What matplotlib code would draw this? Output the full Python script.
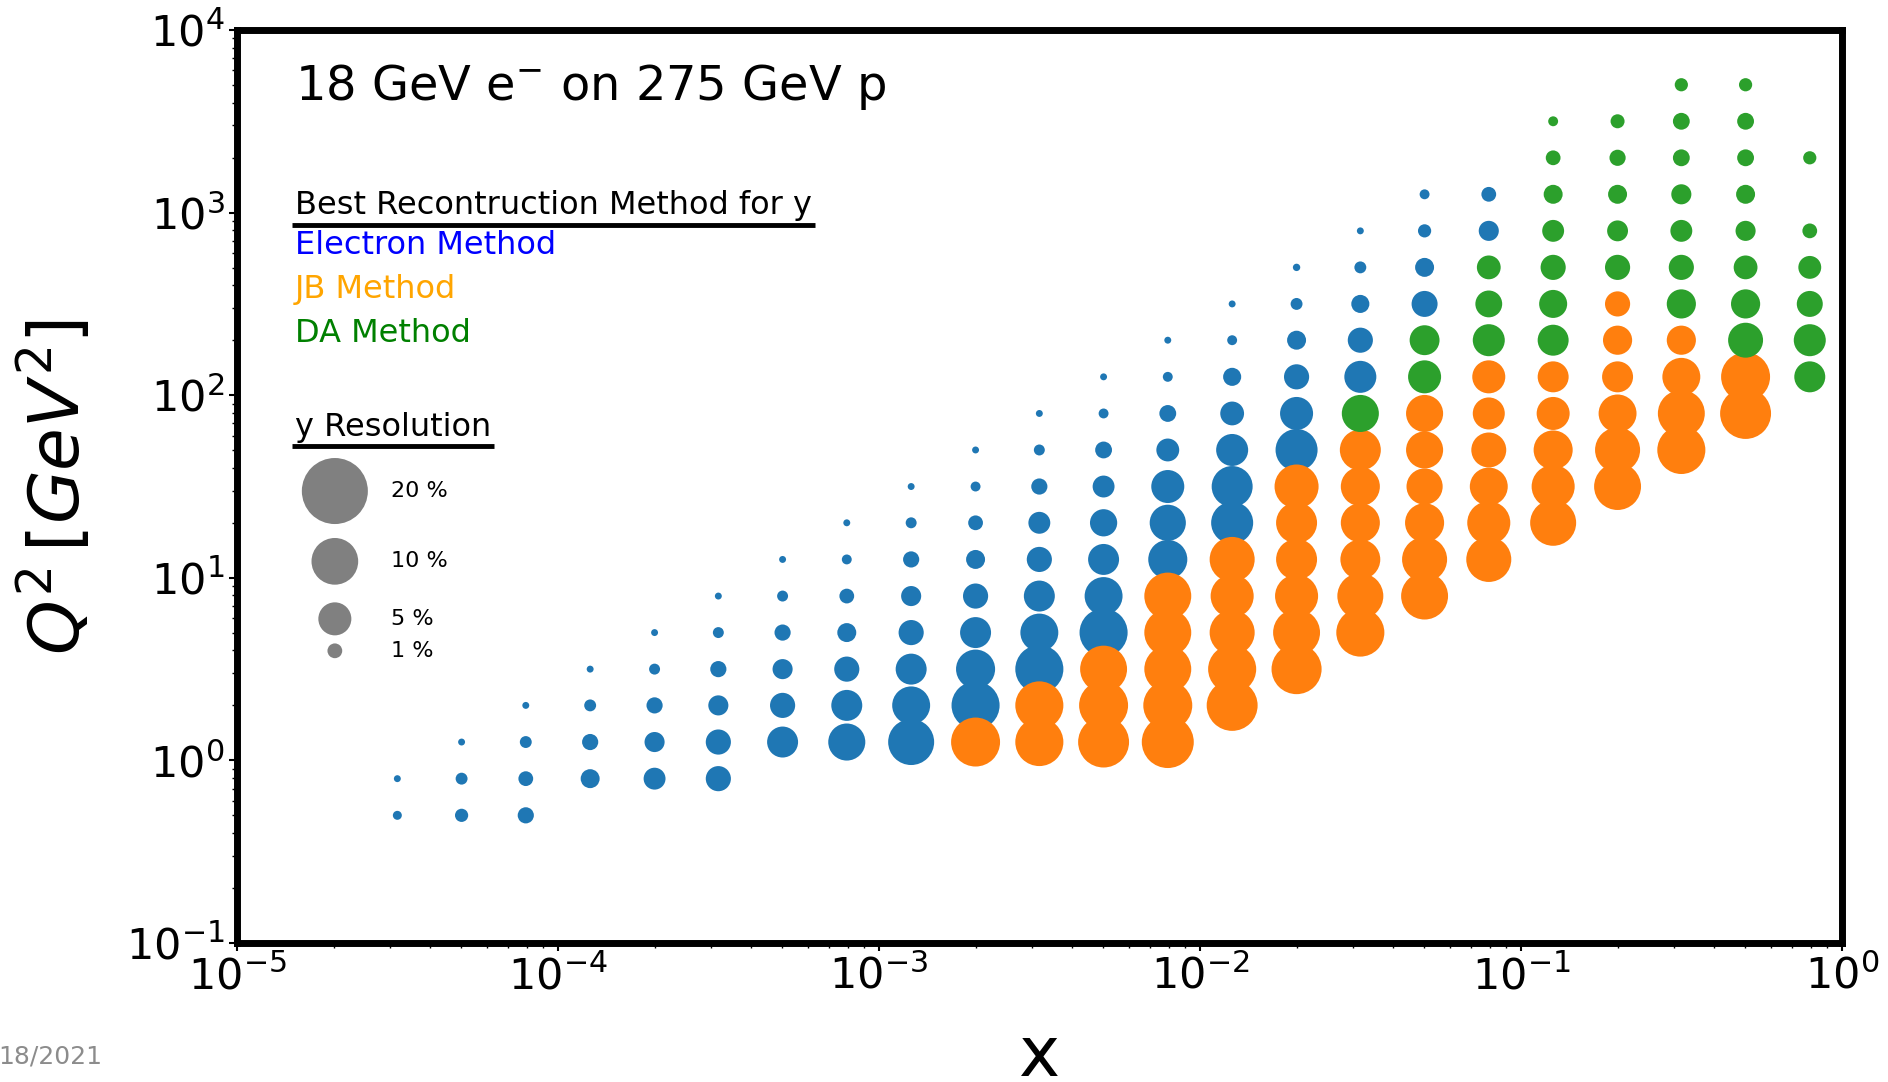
import numpy as np
import matplotlib
matplotlib.use('Agg')
import matplotlib.pyplot as plt

# bin centres of the (x, Q^2) grid
x_bins = [3.16e-5, 5.01e-5, 7.94e-5, 1.26e-4, 2.0e-4, 3.16e-4, 5.01e-4, 7.94e-4,
          1.26e-3, 2.0e-3, 3.16e-3, 5.01e-3, 7.94e-3, 1.26e-2, 2.0e-2, 3.16e-2,
          5.01e-2, 7.94e-2, 0.126, 0.2, 0.316, 0.501, 0.794]
q2_bins = [0.5, 0.794, 1.26, 2.0, 3.16, 5.01, 7.94, 12.6, 20.0, 31.6, 50.1, 79.4,
           126, 200, 316, 501, 794, 1259, 1995, 3162, 5012]

# for each x bin: index of the lowest Q^2 bin filled
first_q2_bin = [0, 0, 0, 1, 1, 1, 2, 2, 2, 2, 2, 2, 2, 3, 4, 5, 6, 7, 8, 9, 10, 11, 12]

# best method per bin going up in Q^2 (E = electron, J = JB, D = DA, - = empty)
best_method = [
    "EE", "EEE", "EEEE", "EEEE", "EEEEE", "EEEEEE", "EEEEEE", "EEEEEEE",
    "EEEEEEEE", "JEEEEEEEE", "JJEEEEEEEE", "JJJEEEEEEEE", "JJJJJEEEEEEE",
    "JJJJJEEEEEEE", "JJJJJJEEEEEE", "JJJJJJDEEEEE", "JJJJJJDDEEEE",
    "JJJJJJDDDEE", "JJJJJDDDDDDD", "JJJJJJDDDDD", "JJJJDDDDDDD",
    "JJDDDDDDDD", "DDDDD-D",
]

# y resolution in % for the same bins
y_resolution = [
    [0.37, 0.22],
    [0.8, 0.65, 0.22],
    [1.2, 1.0, 0.65, 0.22],
    [1.65, 1.2, 0.65, 0.22],
    [2.2, 1.85, 1.2, 0.55, 0.22],
    [2.9, 2.9, 1.85, 1.2, 0.55, 0.22],
    [4.4, 2.9, 1.85, 1.2, 0.55, 0.22],
    [6.3, 4.4, 2.9, 1.65, 1.0, 0.45, 0.22],
    [9.7, 6.6, 4.4, 2.9, 1.85, 1.2, 0.55, 0.22],
    [11.0, 10.6, 7.0, 4.4, 2.9, 1.65, 1.0, 0.45, 0.22],
    [10.6, 10.6, 10.6, 6.6, 4.4, 2.9, 2.2, 1.2, 0.55, 0.22],
    [11.9, 11.0, 10.1, 10.6, 6.6, 4.4, 3.4, 2.2, 1.3, 0.45, 0.22],
    [12.4, 11.0, 10.1, 10.1, 10.1, 7.0, 6.0, 5.0, 2.4, 1.3, 0.45, 0.22],
    [11.9, 10.6, 9.3, 8.5, 9.3, 8.1, 7.7, 4.7, 2.6, 1.5, 0.45, 0.22],
    [11.5, 10.1, 8.5, 7.7, 7.7, 8.9, 8.1, 5.0, 2.9, 1.65, 0.65, 0.25],
    [10.6, 9.7, 7.3, 7.0, 7.0, 7.7, 6.3, 4.7, 2.9, 1.5, 0.65, 0.22],
    [10.1, 9.3, 7.0, 6.0, 6.3, 6.3, 5.0, 4.1, 3.1, 1.65, 0.8, 0.45],
    [9.3, 8.5, 6.6, 5.6, 4.7, 5.0, 4.7, 3.3, 2.6, 1.85, 1.0],
    [9.7, 8.5, 7.0, 5.0, 4.4, 4.4, 3.6, 2.9, 2.2, 1.65, 1.0, 0.45],
    [10.1, 9.3, 6.6, 4.4, 3.9, 2.9, 2.9, 2.0, 1.65, 1.2, 0.9],
    [10.6, 10.1, 6.6, 3.9, 3.9, 2.9, 2.2, 1.85, 1.3, 1.3, 0.8],
    [11.9, 11.0, 5.6, 3.9, 2.6, 1.85, 1.65, 1.3, 1.3, 0.8],
    [4.4, 4.7, 3.1, 2.4, 1.0, 0.0, 0.8],
]

legend_res = [20, 10, 5, 1]

methods = [('E', 'Electron Method', '#1f77b4', 'blue'),
           ('J', 'JB Method', '#ff7f0e', 'orange'),
           ('D', 'DA Method', '#2ca02c', 'green')]

size_per_percent = 113

# flatten the grid
pts = {'E': ([], [], []), 'J': ([], [], []), 'D': ([], [], [])}
for i, x in enumerate(x_bins):
    for k, (m, r) in enumerate(zip(best_method[i], y_resolution[i])):
        if m == '-':
            continue
        pts[m][0].append(x)
        pts[m][1].append(q2_bins[first_q2_bin[i] + k])
        pts[m][2].append(r * size_per_percent)

fig = plt.figure(figsize=(18.88, 10.82), dpi=100)
ax = fig.add_axes([0.1255, 0.1285, 0.8501, 0.8438])

for m, name, c, tc in methods:
    ax.scatter(pts[m][0], pts[m][1], s=pts[m][2], color=c, linewidths=0, zorder=3)

ax.set_xscale('log')
ax.set_yscale('log')
ax.set_xlim(1e-5, 1)
ax.set_ylim(0.1, 1e4)

for sp in ax.spines.values():
    sp.set_linewidth(5)
ax.tick_params(which='major', length=6, width=1.5, labelsize=31, pad=3)
ax.tick_params(which='minor', length=3.5, width=1)

ax.set_xlabel('x', fontsize=50)
ax.set_ylabel(r'$Q^2\,[GeV^2]$', fontsize=50)
ax.xaxis.set_label_coords(0.5, -0.088)
ax.yaxis.set_label_coords(-0.089, 0.5)

ax.text(0.036, 0.9375, r'18 GeV e$^{-}$ on 275 GeV p', transform=ax.transAxes,
        fontsize=34.5, va='center', ha='left')

# method legend
t1 = ax.text(0.036, 0.798, 'Best Recontruction Method for y', transform=ax.transAxes,
             fontsize=23, va='baseline', ha='left')
ys = [0.764, 0.716, 0.667]
for (m, name, c, tc), yy in zip(methods, ys):
    ax.text(0.036, yy, name, color=tc, transform=ax.transAxes, fontsize=23,
            va='center', ha='left')

# size legend
t2 = ax.text(0.036, 0.565, 'y Resolution', transform=ax.transAxes,
             fontsize=23, va='center', ha='left')
leg_y = [0.495, 0.418, 0.355, 0.320]
ax.scatter([0.061] * 4, leg_y, s=[r * size_per_percent for r in legend_res],
           color='gray', linewidths=0, transform=ax.transAxes, zorder=3)
for r, yy in zip(legend_res, leg_y):
    ax.text(0.096, yy, f'{r} %', transform=ax.transAxes, fontsize=16,
            va='center', ha='left')

# underline the two legend headers
fig.canvas.draw()
inv = ax.transAxes.inverted()
for t in (t1, t2):
    bb = t.get_window_extent().transformed(inv)
    ax.plot([bb.x0 - 0.002, bb.x1 + 0.002], [bb.y0 - 0.004] * 2, color='black',
            lw=3.5, transform=ax.transAxes, solid_capstyle='butt', clip_on=False)

fig.text(0.054, 0.024, '18/2021', ha='right', va='center', fontsize=18, color='#8c8c8c')

fig.savefig('out.png', dpi=100)
